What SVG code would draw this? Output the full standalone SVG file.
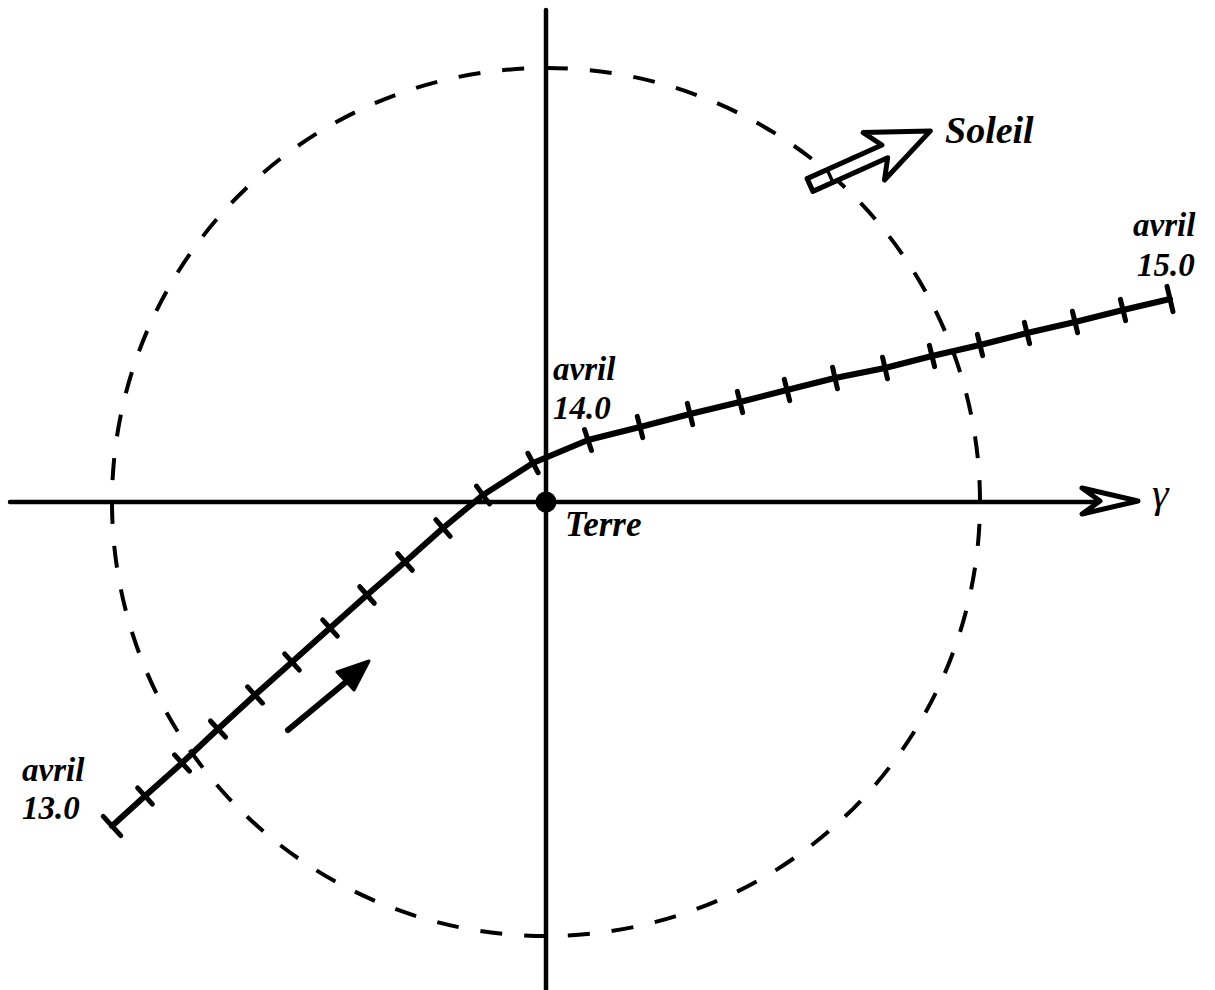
<svg xmlns="http://www.w3.org/2000/svg" width="1215" height="990" viewBox="0 0 1215 990">
<style>
.ax{stroke:#000;stroke-width:4.5;fill:none;stroke-linecap:round}
.lbl{font-family:"Liberation Serif","DejaVu Serif",serif;font-style:italic;font-weight:bold;font-size:33px;fill:#000}
.traj{stroke:#000;stroke-width:6;fill:none;stroke-linejoin:round;stroke-linecap:round}
</style>
<defs>
<marker id="tick" markerUnits="userSpaceOnUse" viewBox="-15 -15 30 30" markerWidth="30" markerHeight="30" refX="0" refY="0" orient="auto" overflow="visible">
<line x1="0" y1="-11" x2="0" y2="11" stroke="#000" stroke-width="5" stroke-linecap="round"/>
</marker>
<marker id="cap" markerUnits="userSpaceOnUse" viewBox="-15 -15 30 30" markerWidth="30" markerHeight="30" refX="0" refY="0" orient="auto" overflow="visible">
<line x1="0" y1="-13" x2="0" y2="13" stroke="#000" stroke-width="5" stroke-linecap="round"/>
</marker>
</defs>
<rect width="1215" height="990" fill="#fff"/>
<g id="orbit">
<path d="M546,68 A434,434 0 0 1 546,936 A434,434 0 0 1 546,68" fill="none" stroke="#000" stroke-width="4" stroke-dasharray="22 22" pathLength="2728"/>
</g>
<g id="axes">
<line class="ax" x1="10" y1="502" x2="1100" y2="502"/>
<polygon points="1082,488 1138,501 1082,514 1100,501" fill="#fff" stroke="#000" stroke-width="5" stroke-linejoin="round"/>
<line class="ax" x1="546" y1="10" x2="546" y2="990"/>
<text class="lbl" x="1152" y="507" style="font-style:italic;font-weight:normal;font-size:42px">γ</text>
</g>
<g id="connectors">
<polyline class="traj" points="112,826 145,796 182,763 218,729 255,695 292,662 330,628 367,595 405,562 443,528 483,495 533,463 588,440 640,427 690,414 740,402 787,390 835,378 885,368 932,356 980,345 1027,333 1075,322 1123,310 1170,299" marker-mid="url(#tick)" marker-start="url(#cap)" marker-end="url(#cap)"/>
<line x1="288" y1="730" x2="352" y2="677" stroke="#000" stroke-width="6" stroke-linecap="round"/>
<polygon points="369,661 337,672 354,690" fill="#000" stroke="#000" stroke-width="3" stroke-linejoin="round"/>
</g>
<g id="sun-arrow" transform="translate(810,185) rotate(-24.2)">
<polygon points="0,-7 82,-7 70,-26 132,0 70,26 82,7 0,7" fill="#fff" stroke="#000" stroke-width="5" stroke-linejoin="round"/>
<line x1="22" y1="-7" x2="22" y2="7" stroke="#000" stroke-width="3.5"/>
</g>
<g id="earth">
<circle cx="546" cy="502" r="10.5" fill="#000"/>
<text class="lbl" x="565" y="536" style="font-size:35px">Terre</text>
</g>
<g id="label-sun">
<text class="lbl" x="945" y="143" style="font-size:38px">Soleil</text>
</g>
<g id="label-14">
<text class="lbl" x="553" y="380">avril</text>
<text class="lbl" x="553" y="419">14.0</text>
</g>
<g id="label-15">
<text class="lbl" x="1133" y="236">avril</text>
<text class="lbl" x="1137" y="276">15.0</text>
</g>
<g id="label-13">
<text class="lbl" x="22" y="781">avril</text>
<text class="lbl" x="22" y="819">13.0</text>
</g>
</svg>
